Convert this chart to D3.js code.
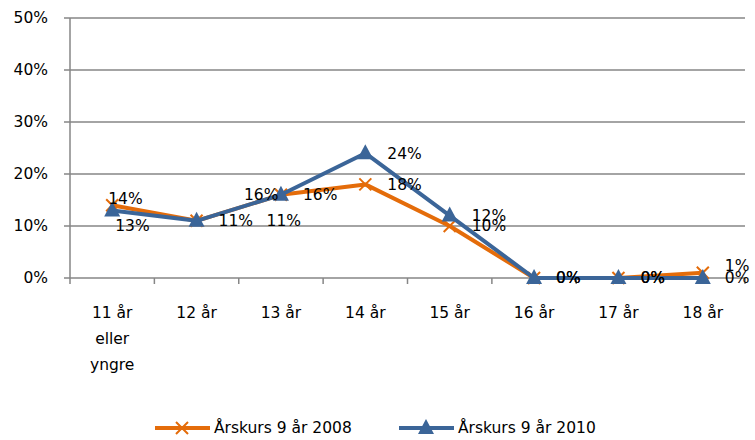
<!DOCTYPE html>
<meta charset="utf-8">
<style>
body { margin: 0; background: #fff; }
text { font-family: "DejaVu Sans", sans-serif; font-size: 15.5px; fill: #000; }
.grid line { stroke: #868686; stroke-width: 1.5; }
.line { fill: none; stroke-width: 4; stroke-linejoin: round; }
</style>
<body>
<div id="chart"></div>
<script src="https://d3js.org/d3.v7.min.js"></script>
<script>
// categories and values
var categories = ["11 år eller yngre", "12 år", "13 år", "14 år", "15 år", "16 år", "17 år", "18 år"];
var catLines = [["11 år", "eller", "yngre"], ["12 år"], ["13 år"], ["14 år"], ["15 år"], ["16 år"], ["17 år"], ["18 år"]];
var yTicks = [0, 10, 20, 30, 40, 50];
var seriesNames = ["Årskurs 9 år 2008", "Årskurs 9 år 2010"];
var values2008 = [14, 11, 16, 18, 10, 0, 0, 1];
var values2010 = [13, 11, 16, 24, 12, 0, 0, 0];

// label nudges (pixels) for labels moved away from default spot
var nudge2008 = [[-26, -7], [0, 0], [0, 0], [0, 0], [0, 0], [0, 0], [0, 0], [0, -7]];
var nudge2010 = [[-19, 15], [48, 0], [-59, 0], [0, 0], [0, 0], [0, 0], [0, 0], [0, 0]];

var colors = ["#e46c0a", "#3b6598"];

var width = 755, height = 440;
var margin = { left: 70, right: 10, top: 18, bottom: 162 };
var w = width - margin.left - margin.right,
    h = height - margin.top - margin.bottom;

var svg = d3.select("#chart").append("svg")
    .attr("width", width)
    .attr("height", height);

var g = svg.append("g").attr("transform", "translate(" + margin.left + "," + margin.top + ")");

var x = d3.scaleBand().domain(categories).range([0, w]);
var y = d3.scaleLinear().domain([0, 50]).range([h, 0]);
var cx = function(i) { return x(categories[i]) + x.bandwidth() / 2; };

// gridlines
g.append("g").attr("class", "grid")
  .selectAll("line").data(yTicks).enter().append("line")
    .attr("x1", -6).attr("x2", w)
    .attr("y1", function(d) { return y(d); })
    .attr("y2", function(d) { return y(d); });

// y axis line
g.append("line").attr("x1", 0).attr("x2", 0).attr("y1", 0).attr("y2", h)
  .attr("stroke", "#868686").attr("stroke-width", 1.5);

// x tick marks
g.append("g").attr("class", "grid")
  .selectAll("line").data(d3.range(categories.length + 1)).enter().append("line")
    .attr("x1", function(d) { return d * x.step(); })
    .attr("x2", function(d) { return d * x.step(); })
    .attr("y1", h).attr("y2", h + 6);

// y labels
g.selectAll(".ylab").data(yTicks).enter().append("text")
  .attr("class", "ylab")
  .attr("x", -22)
  .attr("y", function(d) { return y(d); })
  .attr("dy", "0.35em")
  .attr("text-anchor", "end")
  .text(function(d) { return d + "%"; });

// x labels
catLines.forEach(function(lines, i) {
  var t = g.append("text").attr("text-anchor", "middle")
    .attr("x", cx(i)).attr("y", h + 40);
  lines.forEach(function(s, k) {
    t.append("tspan").attr("x", cx(i)).attr("dy", k === 0 ? 0 : 26).text(s);
  });
});

var line = d3.line()
  .x(function(d, i) { return cx(i); })
  .y(function(d) { return y(d); });

function xMark(sel, color) {
  sel.append("path").attr("d", "M-6,-6L6,6M-6,6L6,-6")
    .attr("stroke", color).attr("stroke-width", 2).attr("fill", "none");
}
function triMark(sel, color) {
  sel.append("path").attr("d", "M0,-9L8,6L-8,6Z").attr("fill", color);
}

var sets = [
  { vals: values2008, nudge: nudge2008, mark: xMark },
  { vals: values2010, nudge: nudge2010, mark: triMark }
];

sets.forEach(function(s, si) {
  g.append("path").datum(s.vals).attr("class", "line")
    .attr("stroke", colors[si]).attr("d", line);
  s.vals.forEach(function(v, i) {
    var m = g.append("g").attr("transform", "translate(" + cx(i) + "," + y(v) + ")");
    s.mark(m, colors[si]);
  });
});

// data labels
sets.forEach(function(s) {
  s.vals.forEach(function(v, i) {
    g.append("text")
      .attr("x", cx(i) + 22 + s.nudge[i][0])
      .attr("y", y(v) + s.nudge[i][1])
      .attr("dy", "0.35em")
      .text(v + "%");
  });
});

// legend
var legend = svg.append("g").attr("transform", "translate(155,428)");
var legendX = [0, 244];
sets.forEach(function(s, si) {
  var lg = legend.append("g").attr("transform", "translate(" + legendX[si] + ",0)");
  lg.append("line").attr("x1", 0).attr("x2", 55).attr("y1", 0).attr("y2", 0)
    .attr("stroke", colors[si]).attr("stroke-width", 4);
  var mk = lg.append("g").attr("transform", "translate(27,0)");
  s.mark(mk, colors[si]);
  lg.append("text").attr("x", 59).attr("y", 0).attr("dy", "0.35em").text(seriesNames[si]);
});
</script>
</body>
